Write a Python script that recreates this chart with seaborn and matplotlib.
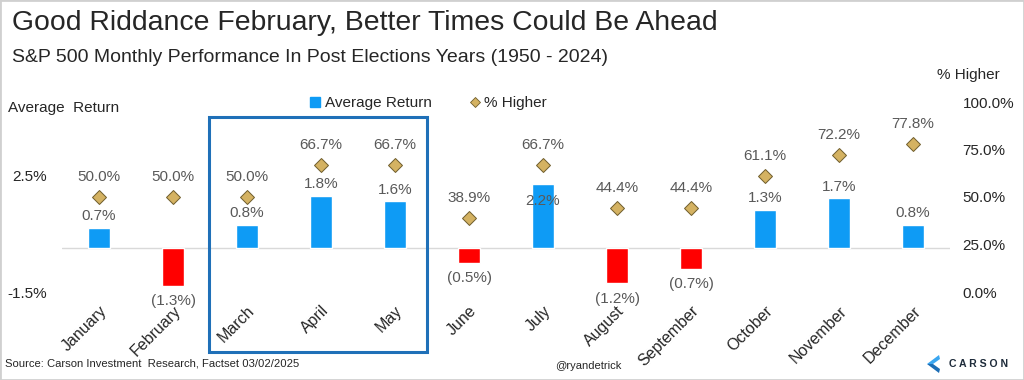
import matplotlib.pyplot as plt
import seaborn as sns
import pandas as pd
from matplotlib.patches import Rectangle, Polygon
from matplotlib.lines import Line2D
from matplotlib.ticker import FuncFormatter

months = ['January', 'February', 'March', 'April', 'May', 'June', 'July',
          'August', 'September', 'October', 'November', 'December']
avg_return = [0.7, -1.3, 0.8, 1.8, 1.6, -0.5, 2.2, -1.2, -0.7, 1.3, 1.7, 0.8]
pct_higher = [50.0, 50.0, 50.0, 66.7, 66.7, 38.9, 66.7, 44.4, 44.4, 61.1, 72.2, 77.8]

BLUE = '#0E9BF5'
RED = '#FF0000'
GOLD = '#D4B262'
GRAY_TXT = '#595959'

sns.set_style('white')
plt.rcParams['font.family'] = ['Liberation Sans', 'DejaVu Sans']

df = pd.DataFrame({'Month': months, 'Avg': avg_return, 'Higher': pct_higher})
bar_colors = [BLUE if v >= 0 else RED for v in avg_return]

fig = plt.figure(figsize=(10.24, 3.8), dpi=100)
ax = fig.add_axes([62 / 1024, 1 - 292 / 380, (950 - 62) / 1024, 190 / 380])
ax2 = ax.twinx()

sns.barplot(data=df, x='Month', y='Avg', hue='Month', palette=bar_colors,
            legend=False, width=0.31, saturation=1, ax=ax)
sns.pointplot(data=df, x='Month', y='Higher', ax=ax2, linestyle='none',
              marker='D', color=GOLD, markersize=7.5,
              markeredgecolor='#6f5d2c', markeredgewidth=0.7)

ax.set_ylim(-1.5, 5.0)
ax2.set_ylim(0, 100)
ax.set_xlim(-0.5, 11.5)
ax.set_yticks([-1.5, 2.5])
ax2.set_yticks([0, 25, 50, 75, 100])
ax.yaxis.set_major_formatter(FuncFormatter(lambda v, p: f'{v:.1f}%'))
ax2.yaxis.set_major_formatter(FuncFormatter(lambda v, p: f'{v:.1f}%'))
ax.tick_params(axis='y', length=0, pad=11, labelsize=11)
ax2.tick_params(axis='y', length=0, pad=9, labelsize=11)
ax.set_xlabel('')
ax.set_ylabel('')
ax2.set_ylabel('')
ax.set_xticks(range(len(months)))
ax.set_xticklabels(months, rotation=45, ha='right', rotation_mode='anchor')
ax.tick_params(axis='x', length=0, pad=8, labelsize=11.5)
ax2.set_zorder(ax.get_zorder() + 1)
ax2.patch.set_visible(False)
for a in (ax, ax2):
    for s in a.spines.values():
        s.set_visible(False)
ax.axhline(0, color='#d9d9d9', lw=1, zorder=0)

# data labels
for i, v in enumerate(avg_return):
    if v >= 0:
        off = -12 if months[i] == 'July' else 8.5
        ax.annotate(f'{v:.1f}%', (i, v), xytext=(0, off), textcoords='offset points',
                    ha='center', va='center', fontsize=11, color=GRAY_TXT)
    else:
        ax.annotate(f'({abs(v):.1f}%)', (i, v), xytext=(0, -11), textcoords='offset points',
                    ha='center', va='center', fontsize=11, color=GRAY_TXT,
                    annotation_clip=False)
for i, v in enumerate(pct_higher):
    ax2.annotate(f'{v:.1f}%', (i, v), xytext=(0, 14.5), textcoords='offset points',
                 ha='center', va='center', fontsize=11, color=GRAY_TXT)

# highlight box
fig.add_artist(Rectangle((209 / 1024, 1 - 352 / 380), (427 - 209) / 1024, (352 - 117) / 380,
                         transform=fig.transFigure, fill=False, edgecolor='#1F70B8', lw=2.2))

# legend
handles = [Line2D([], [], marker='s', color=BLUE, linestyle='none', markersize=7),
           Line2D([], [], marker='D', color=GOLD, markeredgecolor='#6f5d2c',
                  markeredgewidth=0.6, linestyle='none', markersize=5.5)]
fig.legend(handles, ['Average Return', '% Higher'], loc='center',
           bbox_to_anchor=(428 / 1024, 1 - 103 / 380), ncol=2, frameon=False,
           fontsize=11, handletextpad=0.25, columnspacing=2.4, handlelength=0.8)

fig.text(8 / 1024, 1 - 108 / 380, 'Average  Return', fontsize=11, va='center', ha='left')
fig.text(968 / 1024, 1 - 75 / 380, '% Higher', fontsize=11, va='center', ha='center')

fig.text(12 / 1024, 1 - 23 / 380, 'Good Riddance February, Better Times Could Be Ahead',
         fontsize=20.4, va='center', ha='left')
fig.text(12 / 1024, 1 - 57 / 380,
         'S&P 500 Monthly Performance In Post Elections Years (1950 - 2024)',
         fontsize=14, va='center', ha='left')
fig.text(5 / 1024, 1 - 363 / 380, 'Source: Carson Investment  Research, Factset 03/02/2025',
         fontsize=8.1, va='center', ha='left')
fig.text(555 / 1024, 1 - 366 / 380, '@ryandetrick', fontsize=8, va='center', ha='left')

# Carson logo
upper = [(927, 364), (939, 355), (940, 359), (933, 364)]
lower = [(927, 364), (933, 364), (940, 369), (939, 373)]
for pts, col in ((upper, '#3AA6F0'), (lower, '#1C6DB5')):
    fig.add_artist(Polygon([(x / 1024, 1 - y / 380) for x, y in pts], closed=True,
                           transform=fig.transFigure, facecolor=col, edgecolor='none'))
fig.text(949 / 1024, 1 - 364 / 380, 'C A R S O N', fontsize=7.6, va='center', ha='left',
         color='#1E2B3A', weight='bold')

# outer frame
fig.add_artist(Rectangle((0, 0), 1, 1, transform=fig.transFigure, fill=False,
                         edgecolor='#d0d0d0', lw=2))

fig.savefig('out.png', dpi=100)
